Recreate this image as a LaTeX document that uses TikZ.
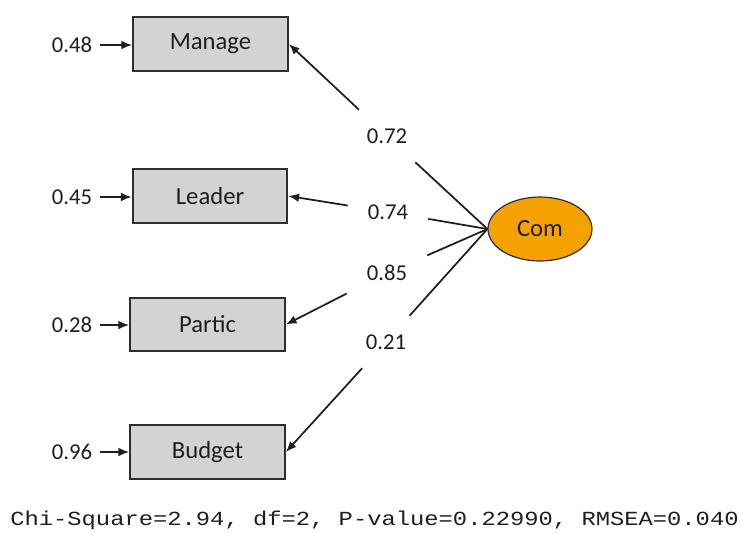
\documentclass[tikz,border=0pt]{standalone}
\usepackage{fontspec}
\setmainfont{Carlito}
\setmonofont{Liberation Mono}
\usetikzlibrary{arrows.meta,shapes.geometric}
\definecolor{boxfill}{HTML}{D3D3D3}
\definecolor{boxline}{HTML}{2E2E2E}
\definecolor{comfill}{HTML}{F5A200}
\definecolor{txt}{HTML}{1E1E1E}
\tikzset{
  obs/.style={draw=boxline, line width=1.6pt, fill=boxfill, minimum width=116pt, minimum height=40pt, inner sep=0pt, text=txt, font=\fontsize{18.5}{20}\selectfont},
  lat/.style={ellipse, draw=boxline, line width=0.9pt, fill=comfill, minimum width=78pt, minimum height=48pt, inner sep=0pt, text=txt, font=\fontsize{18.5}{20}\selectfont},
  errlab/.style={inner sep=0pt, text=txt, font=\fontsize{17}{20}\selectfont},
  loadlab/.style={inner sep=0pt, minimum width=60pt, minimum height=39pt, text=txt, font=\fontsize{17}{20}\selectfont},
  arr/.style={line width=1.3pt, draw=txt, -{Latex[length=8pt,width=6.5pt]}},
  ln/.style={line width=1.3pt, draw=txt}
}
\begin{document}
\begin{tikzpicture}[x=0.75pt,y=-0.75pt]
\useasboundingbox (0,0) rectangle (742,533);
% observed variables
\node[obs] (manage) at (210.5,44) {Manage};
\node[obs] (leader) at (210,196) {Leader};
\node[obs] (partic) at (207.5,324.5) {Partic};
\node[obs] (budget) at (207.5,452) {Budget};
% latent
\node[lat] (com) at (540,229) {Com};
% error terms
\node[errlab] (e1) at (72,45) {0.48};
\node[errlab] (e2) at (72,197) {0.45};
\node[errlab] (e3) at (72,325) {0.28};
\node[errlab] (e4) at (72,452) {0.96};
\draw[arr, shorten <=6pt] (e1) -- (manage.west |- e1);
\draw[arr, shorten <=6pt] (e2) -- (leader.west |- e2);
\draw[arr, shorten <=6pt] (e3) -- (partic.west |- e3);
\draw[arr, shorten <=6pt] (e4) -- (budget.west |- e4);
% loadings
\node[loadlab] (l1) at (387,136) {0.72};
\node[loadlab] (l2) at (388,212) {0.74};
\node[loadlab] (l3) at (387,273) {0.85};
\node[loadlab] (l4) at (386,342) {0.21};
\draw[ln] (com.west) -- (l1);
\draw[arr] (l1) -- (manage.east);
\draw[ln] (com.west) -- (l2);
\draw[arr] (l2) -- (leader.east);
\draw[ln] (com.west) -- (l3);
\draw[arr] (l3) -- (partic.east);
\draw[ln] (com.west) -- (l4);
\draw[arr] (l4) -- (budget.east);
% fit statistics
\node[inner sep=0pt, text=txt, font=\ttfamily\fontsize{15}{18}\selectfont, xscale=1.19] (fit) at (374.5,520) {Chi-Square=2.94, df=2, P-value=0.22990, RMSEA=0.040};
\end{tikzpicture}
\end{document}
